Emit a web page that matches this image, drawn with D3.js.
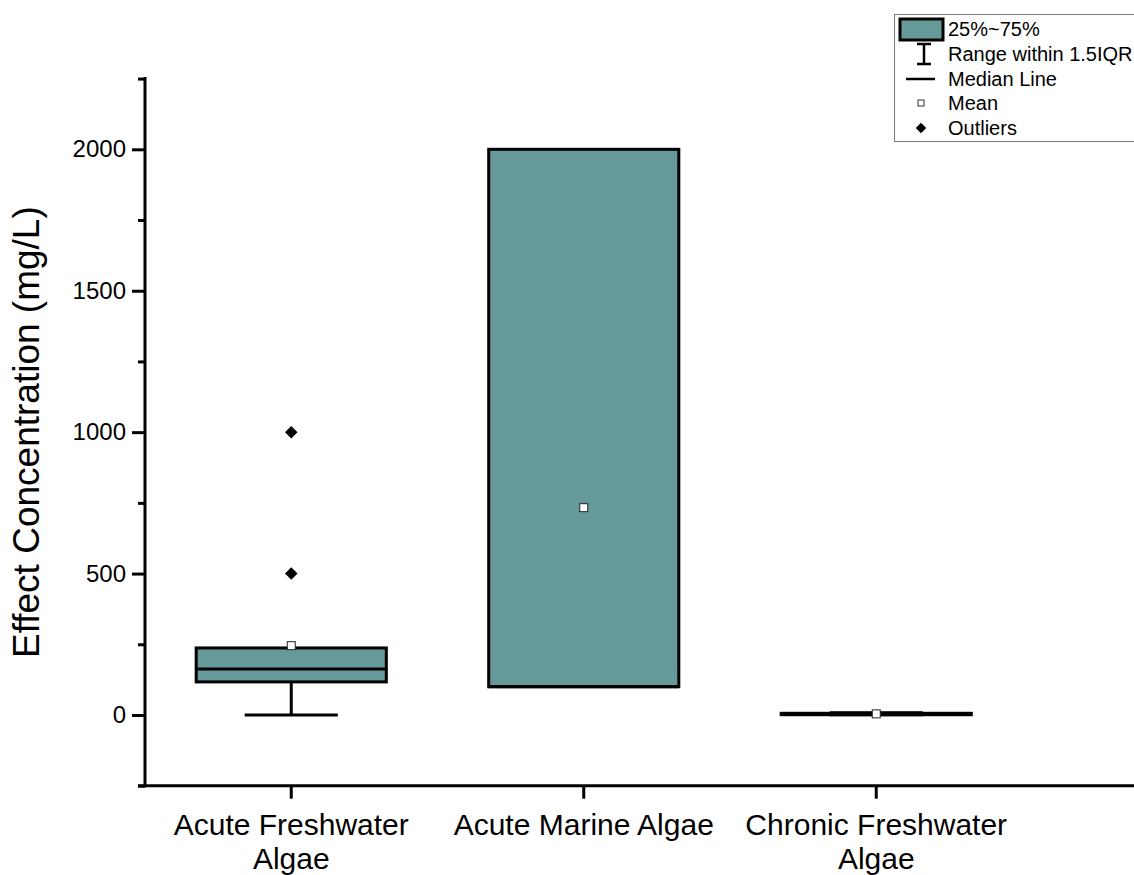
<!DOCTYPE html>
<html>
<head>
<meta charset="utf-8">
<script src="https://cdn.jsdelivr.net/npm/d3@7"></script>
<style>
  html, body { margin: 0; padding: 0; background: #fff; }
  svg { display: block; font-family: "Liberation Sans", Arial, sans-serif; }
</style>
</head>
<body>
<svg id="chart"></svg>
<script>
// DATA
const categories = ["Acute Freshwater Algae", "Acute Marine Algae", "Chronic Freshwater Algae"];
const categoryLines = [["Acute Freshwater", "Algae"], ["Acute Marine Algae"], ["Chronic Freshwater", "Algae"]];
const whiskerLow = [0, 100, 0.5];
const q1 = [117, 100, 1];
const median = [163, 100, 3];
const q3 = [237, 2000, 6];
const whiskerHigh = [237, 2000, 8];
const means = [245, 733, 4];
const outliers = [[500, 1000], [], []];
const yMajorTicks = [0, 500, 1000, 1500, 2000];
const yMinorTicks = [-250, 250, 750, 1250, 1750, 2250];
const legendItems = ["25%~75%", "Range within 1.5IQR", "Median Line", "Mean", "Outliers"];

// LAYOUT
const width = 1134, height = 875;
const boxFill = "#669999";

const svg = d3.select("#chart").attr("width", width).attr("height", height);

const x = d3.scaleBand().domain(categories).range([145, 1022.5]).padding(0);
const y = d3.scaleLinear().domain([-250, 2250]).range([785.7, 78.6]);
const boxW = x.bandwidth() * 0.65;
const capW = boxW * 0.49;
const cx = c => x(c) + x.bandwidth() / 2;

// --------------- AXES ---------------
// minor ticks
svg.append("g")
    .attr("transform", "translate(145,0)")
    .call(d3.axisLeft(y).tickValues(yMinorTicks).tickSize(7).tickFormat(""))
    .call(g => g.select(".domain").remove())
    .selectAll("line").attr("stroke", "#000").attr("stroke-width", 3);

// major ticks + labels
const yAxis = svg.append("g")
    .attr("transform", "translate(145,0)")
    .call(d3.axisLeft(y).tickValues(yMajorTicks).tickSize(13).tickPadding(6).tickFormat(d3.format("d")));
yAxis.select(".domain").remove();
yAxis.selectAll("line").attr("stroke", "#000").attr("stroke-width", 3);
yAxis.selectAll("text")
    .attr("fill", "#000")
    .style("font-size", "24px")
    .style("font-family", "'Liberation Sans', Arial, sans-serif");

// axis lines
svg.append("line")
    .attr("x1", 145).attr("x2", 145)
    .attr("y1", y(2250) - 1.5).attr("y2", y(-250) + 1.5)
    .attr("stroke", "#000").attr("stroke-width", 3);
svg.append("line")
    .attr("x1", 138).attr("x2", width)
    .attr("y1", y(-250)).attr("y2", y(-250))
    .attr("stroke", "#000").attr("stroke-width", 3);

// x ticks
const xAxis = svg.append("g")
    .attr("transform", `translate(0,${y(-250)})`)
    .call(d3.axisBottom(x).tickSize(13).tickFormat(""));
xAxis.select(".domain").remove();
xAxis.selectAll("line").attr("stroke", "#000").attr("stroke-width", 3);

// x labels (two lines)
categories.forEach((c, i) => {
    const t = svg.append("text")
        .attr("x", cx(c))
        .attr("y", 835)
        .attr("text-anchor", "middle")
        .style("font-size", "30px")
        .attr("fill", "#000");
    categoryLines[i].forEach((line, j) => {
        t.append("tspan")
            .attr("x", cx(c))
            .attr("dy", j === 0 ? 0 : 34)
            .text(line);
    });
});

// y title
svg.append("text")
    .attr("transform", `translate(39, ${(y(2250) + y(-250)) / 2}) rotate(-90)`)
    .attr("text-anchor", "middle")
    .style("font-size", "37px")
    .attr("fill", "#000")
    .text("Effect Concentration (mg/L)");

// --------------- BOXES ---------------
const plot = svg.append("g");
categories.forEach((c, i) => {
    const xc = cx(c);
    // lower whisker
    if (whiskerLow[i] < q1[i]) {
        plot.append("line")
            .attr("x1", xc).attr("x2", xc)
            .attr("y1", y(q1[i])).attr("y2", y(whiskerLow[i]))
            .attr("stroke", "#000").attr("stroke-width", 3);
        plot.append("line")
            .attr("x1", xc - capW / 2).attr("x2", xc + capW / 2)
            .attr("y1", y(whiskerLow[i])).attr("y2", y(whiskerLow[i]))
            .attr("stroke", "#000").attr("stroke-width", 3);
    }
    // upper whisker
    if (whiskerHigh[i] > q3[i]) {
        plot.append("line")
            .attr("x1", xc).attr("x2", xc)
            .attr("y1", y(q3[i])).attr("y2", y(whiskerHigh[i]))
            .attr("stroke", "#000").attr("stroke-width", 3);
        plot.append("line")
            .attr("x1", xc - capW / 2).attr("x2", xc + capW / 2)
            .attr("y1", y(whiskerHigh[i])).attr("y2", y(whiskerHigh[i]))
            .attr("stroke", "#000").attr("stroke-width", 3);
    }
    // box
    plot.append("rect")
        .attr("x", xc - boxW / 2)
        .attr("width", boxW)
        .attr("y", y(q3[i]))
        .attr("height", Math.max(0.5, y(q1[i]) - y(q3[i])))
        .attr("fill", boxFill)
        .attr("stroke", "#000")
        .attr("stroke-width", 3);
    // median
    plot.append("line")
        .attr("x1", xc - boxW / 2).attr("x2", xc + boxW / 2)
        .attr("y1", y(median[i])).attr("y2", y(median[i]))
        .attr("stroke", "#000").attr("stroke-width", 3);
    // outliers
    outliers[i].forEach(v => {
        plot.append("path")
            .attr("d", d3.symbol(d3.symbolDiamond2, 100)())
            .attr("transform", `translate(${xc},${y(v)})`)
            .attr("fill", "#000");
    });
    // mean
    plot.append("rect")
        .attr("x", xc - 4).attr("y", y(means[i]) - 4)
        .attr("width", 8).attr("height", 8)
        .attr("fill", "#fff")
        .attr("stroke", "#222")
        .attr("stroke-width", 1);
});

// --------------- LEGEND ---------------
const lg = svg.append("g");
lg.append("rect")
    .attr("x", 894.5).attr("y", 14.5)
    .attr("width", 260).attr("height", 127)
    .attr("fill", "#fff")
    .attr("stroke", "#777")
    .attr("stroke-width", 1);

const rowY = [29, 54, 79, 103, 128];
const icx = 921;
legendItems.forEach((txt, i) => {
    lg.append("text")
        .attr("x", 948)
        .attr("y", rowY[i] + 7)
        .style("font-size", "20px")
        .attr("fill", "#000")
        .text(txt);
});
// box swatch
lg.append("rect")
    .attr("x", 900).attr("y", 19)
    .attr("width", 43).attr("height", 21)
    .attr("fill", boxFill)
    .attr("stroke", "#000")
    .attr("stroke-width", 3);
// range icon
lg.append("path")
    .attr("d", `M${icx - 4},${rowY[1] - 10}H${icx + 10}M${icx + 3},${rowY[1] - 10}V${rowY[1] + 10}M${icx - 4},${rowY[1] + 10}H${icx + 10}`)
    .attr("stroke", "#000").attr("stroke-width", 2.5).attr("fill", "none");
// median icon
lg.append("line")
    .attr("x1", 906).attr("x2", 935)
    .attr("y1", rowY[2]).attr("y2", rowY[2])
    .attr("stroke", "#000").attr("stroke-width", 2.5);
// mean icon
lg.append("rect")
    .attr("x", icx - 3).attr("y", rowY[3] - 3)
    .attr("width", 6).attr("height", 6)
    .attr("fill", "#fff").attr("stroke", "#333").attr("stroke-width", 1);
// outlier icon
lg.append("path")
    .attr("d", d3.symbol(d3.symbolDiamond2, 70)())
    .attr("transform", `translate(${icx},${rowY[4]})`)
    .attr("fill", "#000");
</script>
</body>
</html>
